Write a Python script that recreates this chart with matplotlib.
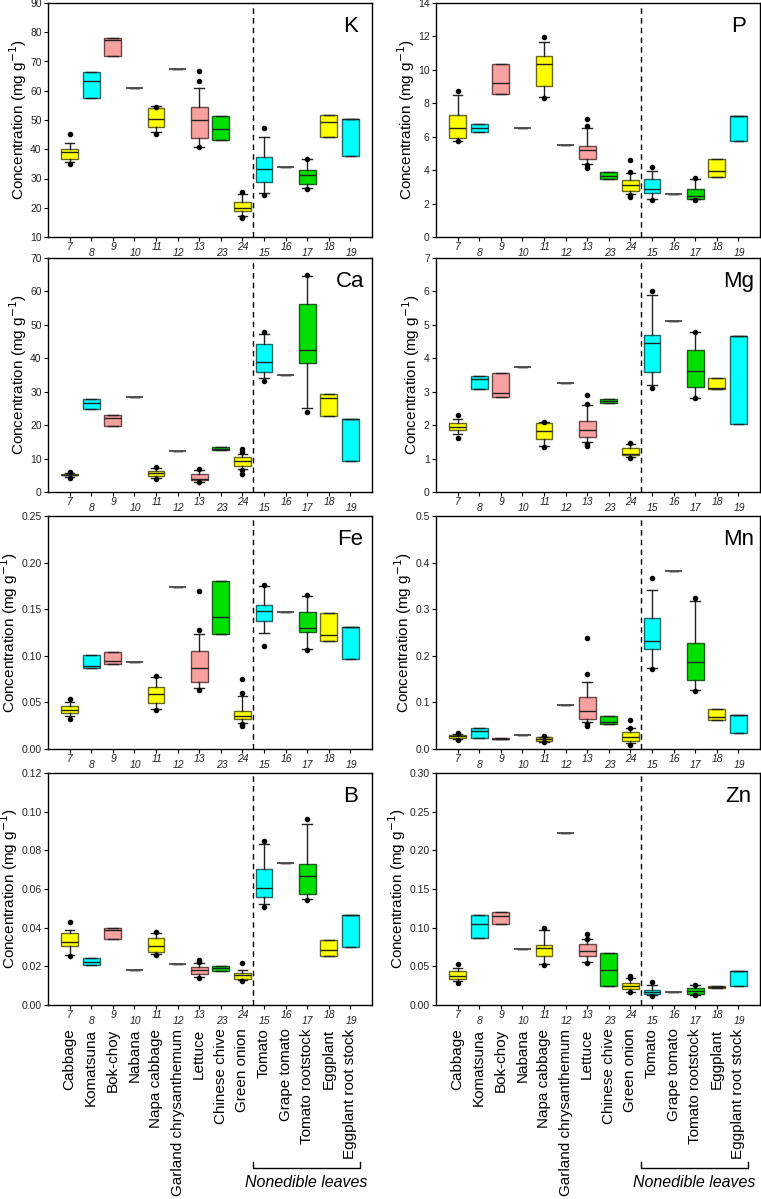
import matplotlib
matplotlib.use("Agg")
import matplotlib.pyplot as plt
from matplotlib.ticker import FormatStrFormatter, MultipleLocator

plt.rcParams['font.family'] = ['Liberation Sans', 'DejaVu Sans']

categories = ["Cabbage", "Komatsuna", "Bok-choy", "Nabana", "Napa cabbage",
              "Garland chrysanthemum", "Lettuce", "Chinese chive", "Green onion",
              "Tomato", "Grape tomato", "Tomato rootstock", "Eggplant",
              "Eggplant root stock"]
codes = ["7", "8", "9", "10", "11", "12", "13", "23", "24",
         "15", "16", "17", "18", "19"]
groups = ["y", "c", "p", "-", "y", "-", "p", "g", "y", "c", "-", "g", "y", "c"]

# (whisker low, q1, median, q3, whisker high) per category
K_box = [(35.5, 36.8, 39.0, 40.0, 42.2), (57.5, 57.5, 63.2, 66.5, 66.5),
         (72.0, 72.0, 77.3, 78.0, 78.0), (61.0, 61.0, 61.0, 61.0, 61.0),
         (45.8, 47.5, 50.5, 54.0, 54.7), (67.4, 67.4, 67.4, 67.4, 67.4),
         (40.9, 44.0, 50.0, 54.3, 61.1), (43.0, 43.0, 47.0, 51.5, 51.5),
         (17.3, 18.8, 20.0, 22.0, 24.8), (25.2, 28.9, 33.3, 37.2, 44.3),
         (33.8, 33.8, 33.8, 33.8, 33.8), (26.8, 28.2, 31.3, 33.0, 36.5),
         (44.3, 44.3, 49.2, 51.8, 51.8), (37.8, 37.8, 50.2, 50.2, 50.2)]
K_out = [[45.2, 35.0], [], [], [], [45.2, 54.5], [], [66.7, 63.3, 40.6], [],
         [25.3, 16.5, 17.0], [47.1, 24.2], [], [36.5, 26.3], [], []]

P_box = [(5.72, 5.92, 6.54, 7.28, 8.5), (6.30, 6.30, 6.52, 6.74, 6.74),
         (8.55, 8.55, 9.2, 10.35, 10.35), (6.55, 6.55, 6.55, 6.55, 6.55),
         (8.35, 9.03, 10.35, 10.85, 11.65), (5.48, 5.48, 5.48, 5.48, 5.48),
         (4.35, 4.65, 5.2, 5.45, 6.5), (3.48, 3.48, 3.65, 3.9, 3.9),
         (2.55, 2.75, 3.1, 3.4, 3.8), (2.25, 2.65, 2.85, 3.45, 3.95),
         (2.58, 2.58, 2.58, 2.58, 2.58), (2.25, 2.28, 2.45, 2.9, 3.5),
         (3.6, 3.6, 3.92, 4.65, 4.65), (5.75, 5.75, 7.22, 7.22, 7.22)]
P_out = [[8.76, 5.72], [], [], [], [11.95, 8.3], [], [7.05, 6.65, 4.3, 4.15], [],
         [4.6, 3.9, 2.5, 2.4], [4.2, 2.2], [], [3.52, 2.22], [], []]

Ca_box = [(4.6, 5.0, 5.2, 5.5, 5.8), (24.8, 24.8, 26.7, 27.9, 27.9),
          (19.8, 19.8, 22.0, 22.9, 22.9), (28.5, 28.5, 28.5, 28.5, 28.5),
          (4.2, 4.8, 5.7, 6.4, 7.2), (12.3, 12.3, 12.3, 12.3, 12.3),
          (3.0, 3.5, 4.0, 5.5, 6.5), (12.6, 12.6, 13.0, 13.6, 13.6),
          (6.8, 7.9, 9.3, 10.5, 11.4), (34.0, 35.8, 39.0, 44.2, 47.2),
          (35.0, 35.0, 35.0, 35.0, 35.0), (25.2, 38.7, 42.6, 56.1, 64.5),
          (22.8, 22.8, 28.0, 29.2, 29.2), (9.3, 9.3, 21.7, 21.7, 21.7)]
Ca_out = [[6.0, 4.3], [], [], [], [7.6, 4.0], [], [6.9, 2.9], [],
          [13.0, 12.0, 6.6, 5.3], [47.8, 33.2], [], [65.0, 24.0], [], []]

Mg_box = [(1.75, 1.85, 1.95, 2.05, 2.18), (3.07, 3.07, 3.38, 3.47, 3.47),
          (2.84, 2.84, 2.96, 3.56, 3.56), (3.75, 3.75, 3.75, 3.75, 3.75),
          (1.37, 1.6, 1.82, 2.05, 2.1), (3.26, 3.26, 3.26, 3.26, 3.26),
          (1.49, 1.66, 1.85, 2.12, 2.6), (2.67, 2.67, 2.73, 2.79, 2.79),
          (1.05, 1.1, 1.13, 1.33, 1.45), (3.2, 3.6, 4.45, 4.7, 5.88),
          (5.13, 5.13, 5.13, 5.13, 5.13), (2.82, 3.15, 3.63, 4.24, 4.8),
          (3.09, 3.09, 3.12, 3.42, 3.42), (2.02, 2.02, 4.66, 4.66, 4.66)]
Mg_out = [[2.3, 1.63], [], [], [], [2.1, 1.35], [], [2.9, 2.62, 1.45, 1.38], [],
          [1.47, 1.03], [6.0, 3.1], [], [4.8, 2.8], [], []]

Fe_box = [(0.035, 0.0385, 0.042, 0.0465, 0.050), (0.0864, 0.0864, 0.0893, 0.101, 0.101),
          (0.091, 0.091, 0.094, 0.104, 0.104), (0.093, 0.093, 0.093, 0.093, 0.093),
          (0.043, 0.0496, 0.0589, 0.0664, 0.0775), (0.1735, 0.1735, 0.1735, 0.1735, 0.1735),
          (0.065, 0.0718, 0.0868, 0.1054, 0.1236), (0.1236, 0.1236, 0.1418, 0.18, 0.18),
          (0.028, 0.0325, 0.035, 0.041, 0.057), (0.124, 0.137, 0.148, 0.155, 0.175),
          (0.1475, 0.1475, 0.1475, 0.1475, 0.1475), (0.1075, 0.1254, 0.1296, 0.1468, 0.164),
          (0.1161, 0.1161, 0.1225, 0.1461, 0.1461), (0.0968, 0.0968, 0.131, 0.131, 0.131)]
Fe_out = [[0.054, 0.032], [], [], [], [0.078, 0.0415], [], [0.169, 0.128, 0.0635], [],
          [0.075, 0.0596, 0.0265, 0.025], [0.1755, 0.11], [], [0.165, 0.106], [], []]

Mn_box = [(0.021, 0.024, 0.027, 0.030, 0.032), (0.023, 0.023, 0.039, 0.045, 0.045),
          (0.021, 0.021, 0.022, 0.023, 0.023), (0.029, 0.029, 0.029, 0.029, 0.029),
          (0.015, 0.018, 0.021, 0.025, 0.026), (0.094, 0.094, 0.094, 0.094, 0.094),
          (0.058, 0.0645, 0.0805, 0.111, 0.1445), (0.054, 0.054, 0.059, 0.070, 0.070),
          (0.012, 0.0175, 0.026, 0.0375, 0.044), (0.173, 0.215, 0.232, 0.282, 0.342),
          (0.383, 0.383, 0.383, 0.383, 0.383), (0.126, 0.148, 0.186, 0.228, 0.318),
          (0.062, 0.062, 0.069, 0.085, 0.085), (0.035, 0.035, 0.072, 0.072, 0.072)]
Mn_out = [[0.034, 0.019], [], [], [], [0.027, 0.015], [], [0.238, 0.161, 0.053, 0.050], [],
          [0.063, 0.045, 0.009], [0.366, 0.172], [], [0.324, 0.125], [], []]

B_box = [(0.026, 0.0307, 0.0327, 0.0372, 0.039), (0.0205, 0.0205, 0.022, 0.0241, 0.0241),
         (0.0343, 0.0343, 0.0386, 0.040, 0.040), (0.018, 0.018, 0.018, 0.018, 0.018),
         (0.0265, 0.0275, 0.0304, 0.0346, 0.037), (0.0213, 0.0213, 0.0213, 0.0213, 0.0213),
         (0.0145, 0.016, 0.018, 0.0198, 0.0215), (0.0178, 0.0178, 0.019, 0.0202, 0.0202),
         (0.0128, 0.0135, 0.0153, 0.0165, 0.018), (0.0525, 0.056, 0.0604, 0.0703, 0.0833),
         (0.0737, 0.0737, 0.0737, 0.0737, 0.0737), (0.055, 0.0575, 0.0665, 0.0727, 0.0938),
         (0.0254, 0.0254, 0.0282, 0.0337, 0.0337), (0.030, 0.030, 0.0463, 0.0463, 0.0463)]
B_out = [[0.043, 0.0255], [], [], [], [0.038, 0.026], [], [0.0235, 0.022, 0.0138], [],
         [0.0215, 0.0125], [0.085, 0.0508], [], [0.096, 0.0545], [], []]

Zn_box = [(0.0305, 0.0331, 0.0375, 0.0439, 0.048), (0.0869, 0.0869, 0.1042, 0.1166, 0.1166),
          (0.1051, 0.1051, 0.1153, 0.1201, 0.1201), (0.0719, 0.0719, 0.0719, 0.0719, 0.0719),
          (0.0525, 0.0637, 0.0736, 0.0775, 0.0968), (0.2222, 0.2222, 0.2222, 0.2222, 0.2222),
          (0.0555, 0.063, 0.0693, 0.079, 0.0857), (0.0249, 0.0249, 0.0448, 0.0667, 0.0667),
          (0.0172, 0.0207, 0.0245, 0.029, 0.0345), (0.0125, 0.014, 0.0168, 0.0198, 0.0265),
          (0.0163, 0.0163, 0.0163, 0.0163, 0.0163), (0.0135, 0.0147, 0.0185, 0.0215, 0.0255),
          (0.0224, 0.0224, 0.0237, 0.0251, 0.0251), (0.0247, 0.0247, 0.0443, 0.0443, 0.0443)]
Zn_out = [[0.0535, 0.029], [], [], [], [0.099, 0.0515], [], [0.092, 0.0848, 0.054], [],
          [0.0375, 0.0345, 0.0163], [0.030, 0.012], [], [0.026, 0.013], [], []]

fill = {"y": "#FFFF00", "c": "#00FFFF", "p": "#F7A1A1", "g": "#00E000", "-": "none"}
edge = {"y": "#66661a", "c": "#1a6666", "p": "#6b4545", "g": "#1a5a1a", "-": "#555555"}

# name, boxes, outliers, ymin, ymax, tick step, format
panels = [
    ("K", K_box, K_out, 10, 90, 10, "%d"),
    ("P", P_box, P_out, 0, 14, 2, "%d"),
    ("Ca", Ca_box, Ca_out, 0, 70, 10, "%d"),
    ("Mg", Mg_box, Mg_out, 0, 7, 1, "%d"),
    ("Fe", Fe_box, Fe_out, 0, 0.25, 0.05, "%.2f"),
    ("Mn", Mn_box, Mn_out, 0, 0.5, 0.1, "%.1f"),
    ("B", B_box, B_out, 0, 0.12, 0.02, "%.2f"),
    ("Zn", Zn_box, Zn_out, 0, 0.30, 0.05, "%.2f"),
]

W, H = 761, 1199
fig = plt.figure(figsize=(W / 100, H / 100), dpi=100)

lefts = [48, 436]
tops = [3, 258, 516, 773]
bottoms = [237, 492, 749, 1005]
pos = list(range(1, 15))

for i, (name, boxes, outs, ymin, ymax, step, fmt) in enumerate(panels):
    r, c = divmod(i, 2)
    ax = fig.add_axes([lefts[c] / W, 1 - bottoms[r] / H, 324 / W,
                       (bottoms[r] - tops[r]) / H])
    stats = []
    for b, o in zip(boxes, outs):
        stats.append(dict(whislo=b[0], q1=b[1], med=b[2], q3=b[3], whishi=b[4],
                          fliers=o))
    art = ax.bxp(stats, positions=pos, widths=0.78, capwidths=0.45,
                 patch_artist=True, showfliers=True,
                 medianprops=dict(color="#222222", lw=1.0),
                 whiskerprops=dict(color="#222222", lw=1.0),
                 capprops=dict(color="#222222", lw=1.0),
                 flierprops=dict(marker="o", markersize=3, markerfacecolor="black",
                                 markeredgecolor="black"))
    for j, bx in enumerate(art["boxes"]):
        g = groups[j]
        bx.set_facecolor(fill[g])
        bx.set_edgecolor(edge[g])
        bx.set_linewidth(1.2 if g == "-" else 1.0)
        if g == "-":
            art["medians"][j].set_color("#555555")
            art["medians"][j].set_linewidth(1.2)
    ax.axvline(9.5, color="black", ls=(0, (4, 3)), lw=1.0)
    ax.set_xlim(0, 15)
    ax.set_ylim(ymin, ymax)
    ax.yaxis.set_major_locator(MultipleLocator(step))
    ax.yaxis.set_major_formatter(FormatStrFormatter(fmt))
    ax.set_xticks(pos)
    ax.set_xticklabels([])
    ax.tick_params(axis="both", direction="out", length=3, width=0.8,
                   labelsize=7.5, colors="black", labelcolor="#222222", pad=1.5)
    for sp in ax.spines.values():
        sp.set_linewidth(1.0)
    ax.set_ylabel("Concentration (mg g$^{-1}$)", fontsize=11, labelpad=1)
    ax.text(0.934, 0.90, name, transform=ax.transAxes, fontsize=16,
            ha="center", va="center")
    for j, code in enumerate(codes):
        off = -7 if j % 2 == 0 else -11.5
        ax.annotate(code, xy=(pos[j], 0), xycoords=("data", "axes fraction"),
                    xytext=(0.5, off), textcoords="offset points",
                    ha="center", va="center", fontsize=7.5, style="italic",
                    color="#222222")
    if r == 3:
        for j, cat in enumerate(categories):
            ax.annotate(cat, xy=(pos[j], 0), xycoords=("data", "axes fraction"),
                        xytext=(0, -17), textcoords="offset points",
                        ha="center", va="top", rotation=90, fontsize=11)
        tr = ax.get_xaxis_transform()
        ax.plot([9.5, 9.5, 14.45, 14.45], [-0.677, -0.703, -0.703, -0.677],
                color="black", lw=1.0, transform=tr, clip_on=False)
        ax.text(11.95, -0.767, "Nonedible leaves", transform=tr, ha="center",
                va="center", fontsize=11.5, style="italic")

fig.savefig("out.png", dpi=100)
